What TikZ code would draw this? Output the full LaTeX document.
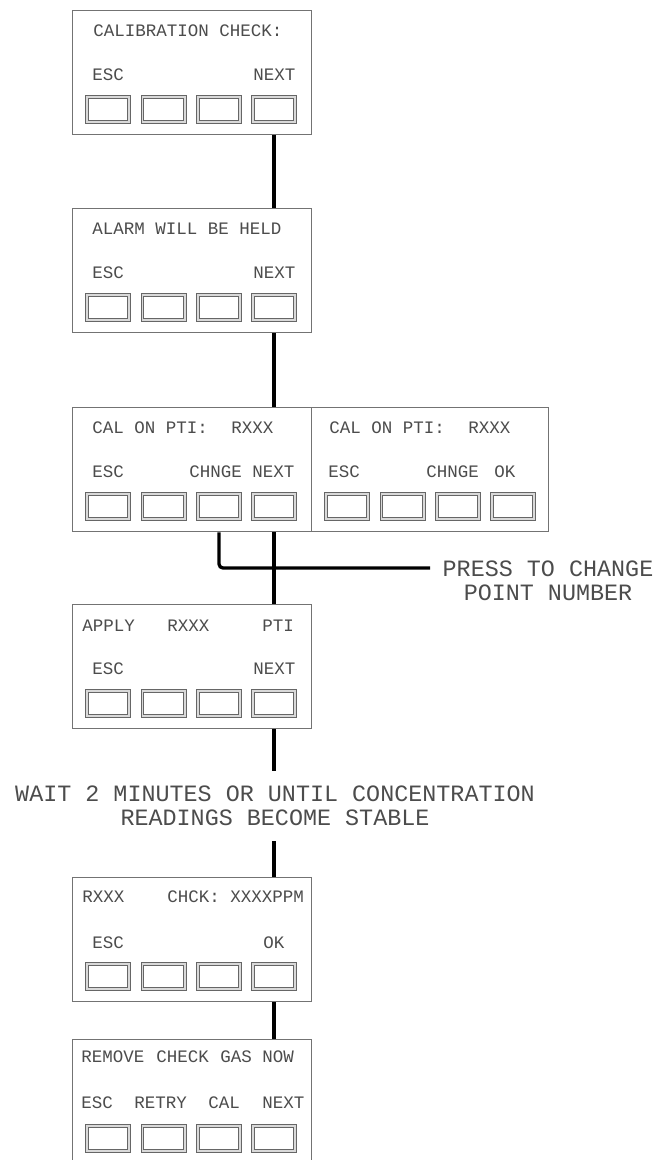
\documentclass[tikz,border=0pt]{standalone}
\usepackage{fontspec}
\newfontfamily\cadfont{Liberation Mono}
\tikzset{
  screen/.style={draw=black!55, line width=0.7pt, fill=white, anchor=north west,
    inner sep=0pt, minimum height=62pt},
  btn/.style={draw=black!60, double=black!15, double distance=0.8pt, line width=0.5pt,
    minimum width=21.2pt, minimum height=12.7pt, inner sep=0pt},
  lbl/.style={anchor=west, inner sep=0pt, text=black!70,
    font=\cadfont\fontsize{8.75}{10}\selectfont},
  big/.style={align=center, inner sep=0pt, text=black!70,
    font=\cadfont\fontsize{11.7}{12}\selectfont},
  conn/.style={draw=black, line width=1.65pt},
}
\newcommand\mkscreen[4]{%
  \node[screen, minimum width=#4] (#1) at (#2,#3) {};
  \begin{scope}[shift={(#2,#3)}]
    \node[btn] (#1-1) at (36,99.5) {};
    \node[btn] (#1-2) at (91.5,99.5) {};
    \node[btn] (#1-3) at (147,99.5) {};
    \node[btn] (#1-4) at (202,99.5) {};
  \end{scope}}
\begin{document}
\begin{tikzpicture}[x=0.5pt, y=-0.5pt]
\useasboundingbox (0,0) rectangle (658,1160);
\clip (0,0) rectangle (658,1160);

% screen 1
\mkscreen{s1}{72}{10}{119.5pt}
\node[lbl] (s1t) at (93,31) {CALIBRATION CHECK:};
\node[lbl] (s1a) at (92,75) {ESC};
\node[lbl] (s1d) at (253,75) {NEXT};

% screen 2
\mkscreen{s2}{72}{208}{119.5pt}
\node[lbl] (s2t) at (92,229) {ALARM WILL BE HELD};
\node[lbl] (s2a) at (92,273) {ESC};
\node[lbl] (s2d) at (253,273) {NEXT};

% screen 3 (left and right)
\mkscreen{s3}{72}{407}{119.5pt}
\node[lbl] (s3t) at (92,428) {CAL ON PTI:};
\node[lbl] (s3r) at (231,428) {RXXX};
\node[lbl] (s3a) at (92,472) {ESC};
\node[lbl] (s3c) at (189,472) {CHNGE};
\node[lbl] (s3d) at (252,472) {NEXT};

\mkscreen{s3b}{311}{407}{118.5pt}
\node[lbl] (s3bt) at (329,428) {CAL ON PTI:};
\node[lbl] (s3br) at (468,428) {RXXX};
\node[lbl] (s3ba) at (328,472) {ESC};
\node[lbl] (s3bc) at (426,472) {CHNGE};
\node[lbl] (s3bd) at (494,472) {OK};

% screen 4
\mkscreen{s4}{72}{604}{119.5pt}
\node[lbl] (s4t) at (82,626) {APPLY};
\node[lbl] (s4r) at (167,626) {RXXX};
\node[lbl] (s4p) at (262,626) {PTI};
\node[lbl] (s4a) at (92,669) {ESC};
\node[lbl] (s4d) at (253,669) {NEXT};

% screen 5
\mkscreen{s5}{72}{877}{119.5pt}
\node[lbl] (s5t) at (82,897) {RXXX};
\node[lbl] (s5c) at (167,897) {CHCK: XXXXPPM};
\node[lbl] (s5a) at (92,943) {ESC};
\node[lbl] (s5d) at (263,943) {OK};

% screen 6
\mkscreen{s6}{72}{1039}{119.5pt}
\node[lbl] (s6t1) at (81,1057) {REMOVE};
\node[lbl] (s6t2) at (156,1057) {CHECK};
\node[lbl] (s6t3) at (220,1057) {GAS};
\node[lbl] (s6t4) at (262,1057) {NOW};
\node[lbl] (s6a) at (81,1103) {ESC};
\node[lbl] (s6b) at (134,1103) {RETRY};
\node[lbl] (s6c) at (208,1103) {CAL};
\node[lbl] (s6d) at (262,1103) {NEXT};

% notes
\node[big] (press) at (548,580.5) {PRESS TO CHANGE\\POINT NUMBER};
\coordinate (pressend) at (430,568);
\node[big, inner ysep=7.5pt] (wait) at (275,806)
  {WAIT 2 MINUTES OR UNTIL CONCENTRATION\\READINGS BECOME STABLE};

% connectors
\draw[conn] (s1.south -| s1-4) -- (s2.north -| s1-4);
\draw[conn] (s2.south -| s2-4) -- (s3.north -| s2-4);
\draw[conn, rounded corners=2pt] (s3.south -| s3-3) |- (pressend);
\draw[conn] (s3.south -| s3-4) -- (s4.north -| s3-4);
\draw[conn] (s4.south -| s4-4) -- (wait.north -| s4-4);
\draw[conn] (wait.south -| s4-4) -- (s5.north -| s4-4);
\draw[conn] (s5.south -| s5-4) -- (s6.north -| s5-4);
\end{tikzpicture}
\end{document}
